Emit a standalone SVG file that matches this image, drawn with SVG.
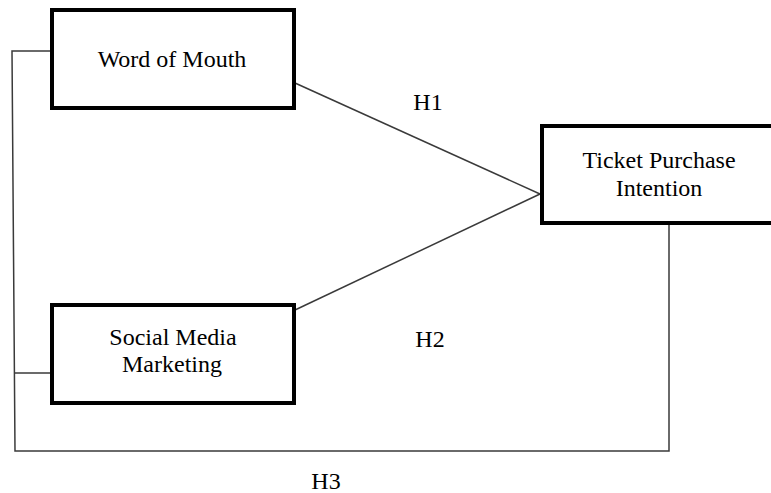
<svg xmlns="http://www.w3.org/2000/svg" width="771" height="493" viewBox="0 0 771 493">
<style>
.box{fill:#fff;stroke:#000;stroke-width:4}
.t{font-family:"Liberation Serif","Times New Roman",serif;font-size:24px;fill:#000;text-anchor:middle}
.c{fill:none;stroke:#3a3a3a;stroke-width:1.5}
</style>
<rect width="771" height="493" fill="#fff"/>
<g id="connectors">
<polyline class="c" points="52,51 12,51 15,451 669,451 669,225"/>
<line class="c" x1="15" y1="373" x2="52" y2="373"/>
<line class="c" x1="295" y1="83" x2="540" y2="194"/>
<line class="c" x1="295" y1="310" x2="540" y2="194"/>
</g>
<g id="word-of-mouth">
<rect class="box" x="52" y="10" width="242" height="98"/>
<text class="t" x="172" y="67">Word of Mouth</text>
</g>
<g id="social-media-marketing">
<rect class="box" x="52" y="305" width="242" height="98"/>
<text class="t" x="173" y="345">Social Media</text>
<text class="t" x="172" y="372">Marketing</text>
</g>
<g id="ticket-purchase-intention">
<rect class="box" x="542" y="126" width="240" height="97"/>
<text class="t" x="659" y="168">Ticket Purchase</text>
<text class="t" x="659" y="196">Intention</text>
</g>
<g id="labels">
<text class="t" x="428" y="110">H1</text>
<text class="t" x="430" y="347">H2</text>
<text class="t" x="326" y="489">H3</text>
</g>
</svg>
